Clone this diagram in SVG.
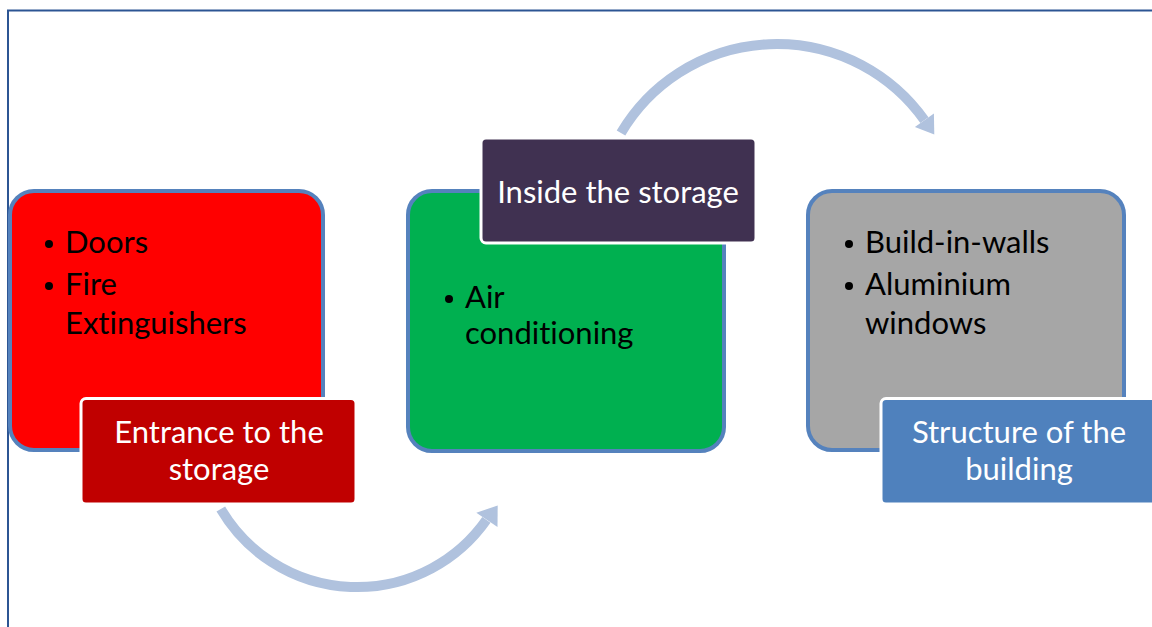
<svg xmlns="http://www.w3.org/2000/svg" width="1152" height="627" viewBox="0 0 1152 627">
  <style>
    .frame { fill: none; stroke: #2c5593; stroke-width: 2; }
    .box { stroke: #5582bd; stroke-width: 4; }
    .tag { stroke: #ffffff; stroke-width: 3; }
    .item { font-family: Lato, "Open Sans", "Liberation Sans", sans-serif; font-size: 31px; fill: #000000; font-variant-ligatures: none; }
    .title { font-family: Lato, "Open Sans", "Liberation Sans", sans-serif; font-size: 31px; fill: #ffffff; text-anchor: middle; font-variant-ligatures: none; }
    .dot { fill: #000000; }
    .arc { fill: none; stroke: #b0c2de; stroke-width: 10; }
    .head { fill: #b0c2de; }
  </style>

  <rect width="1152" height="627" fill="#ffffff"/>
  <!-- page frame -->
  <path class="frame" d="M8,627 V10.5 H1152"/>

  <!-- curved connectors -->
  <g id="connectors">
    <path class="arc" d="M220.8,509 A158,158 0 0 0 486.4,519.9"/>
    <polygon class="head" points="497.7,505.5 497.5,527.1 476.3,512.7"/>
    <path class="arc" d="M621,133 A181,181 0 0 1 924.4,120.2"/>
    <polygon class="head" points="934.3,134.5 933.9,113.4 914.9,127.0"/>
  </g>

  <!-- entrance -->
  <g id="entrance">
    <rect class="box" x="10" y="191" width="313" height="259" rx="24" fill="#ff0000"/>
    <circle class="dot" cx="49" cy="244" r="4"/>
    <text class="item" x="65" y="253">Doors</text>
    <circle class="dot" cx="49" cy="286" r="4"/>
    <text class="item" x="65" y="295">Fire</text>
    <text class="item" x="65" y="334">Extinguishers</text>
    <rect class="tag" x="81" y="398.5" width="275" height="105.5" rx="5" fill="#c00000"/>
    <text class="title" x="219" y="443">Entrance to the</text>
    <text class="title" x="219" y="480">storage</text>
  </g>

  <!-- inside -->
  <g id="inside">
    <rect class="box" x="408" y="191" width="316" height="260" rx="24" fill="#00b050"/>
    <circle class="dot" cx="449" cy="299" r="4"/>
    <text class="item" x="465" y="308">Air</text>
    <text class="item" x="465" y="344">conditioning</text>
    <rect class="tag" x="481" y="138" width="275" height="105" rx="5" fill="#403151"/>
    <text class="title" x="618" y="203">Inside the storage</text>
  </g>

  <!-- structure -->
  <g id="structure">
    <rect class="box" x="808" y="191" width="316" height="259" rx="24" fill="#a6a6a6"/>
    <circle class="dot" cx="849" cy="244" r="4"/>
    <text class="item" x="865" y="253">Build-in-walls</text>
    <circle class="dot" cx="849" cy="286" r="4"/>
    <text class="item" x="865" y="295">Aluminium</text>
    <text class="item" x="865" y="334">windows</text>
    <rect class="tag" x="881" y="398.5" width="275" height="105.5" rx="5" fill="#4f81bd"/>
    <text class="title" x="1019" y="443">Structure of the</text>
    <text class="title" x="1019" y="480">building</text>
  </g>
</svg>
